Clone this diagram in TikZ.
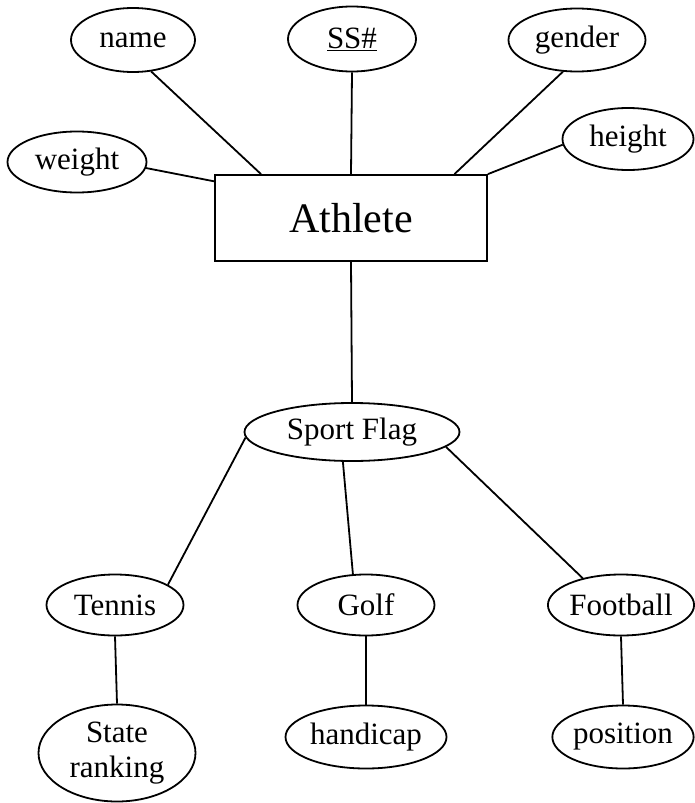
\documentclass[tikz,border=0pt]{standalone}
\usepackage{fontspec}
\setmainfont{Liberation Serif}
\usetikzlibrary{shapes.geometric}

\begin{document}
\begin{tikzpicture}[
    x=1pt, y=-1pt,
    attr/.style={ellipse, draw, line width=1.8pt, inner sep=0pt, font=\fontsize{31}{35}\selectfont},
    entity/.style={rectangle, draw, line width=1.8pt, inner sep=0pt, font=\fontsize{42}{48}\selectfont},
    link/.style={line width=1.8pt}
]
\useasboundingbox (0,0) rectangle (694,803);

% Entity
\node[entity, minimum width=272pt, minimum height=86pt] (athlete) at (351,218) {Athlete};

% Attributes of the entity
\node[attr, minimum width=124pt, minimum height=64pt] (name)   at (133,40)  {name};
\node[attr, minimum width=128pt, minimum height=65pt] (ssn)    at (352,39)  {\underline{SS\#}};
\node[attr, minimum width=137pt, minimum height=63pt] (gender) at (577,40)  {gender};
\node[attr, minimum width=139pt, minimum height=61pt] (weight) at (77,162)  {weight};
\node[attr, minimum width=131pt, minimum height=62pt] (height) at (628,139) {height};

\draw[link] (name.-60)   -- (athlete.154);
\draw[link] (ssn.south)  -- (athlete.north);
\draw[link] (gender.246) -- (athlete.23.5);
\draw[link] (height.185) -- (athlete.north east);
\draw[link] (weight.-5)  -- (athlete.165);

% Flag and the sports below it
\node[attr, minimum width=215pt, minimum height=58pt] (sport) at (352,432) {Sport Flag};
\draw[link] (athlete.south) -- (sport.north);

\node[attr, minimum width=137pt, minimum height=61pt] (tennis)   at (115,605) {Tennis};
\node[attr, minimum width=137pt, minimum height=61pt] (golf)     at (366,605) {Golf};
\node[attr, minimum width=144pt, minimum height=61pt] (football) at (621,605) {Football};

\draw[link] (sport.183) -- (tennis.21);
\draw[link] (sport.253) -- (golf.113);
\draw[link] (sport.-9)  -- (football.145);

% Attributes of each sport
\node[attr, align=center, minimum width=157pt, minimum height=97pt] (ranking)  at (117,753) {State\\ranking};
\node[attr, minimum width=161pt, minimum height=63pt] (handicap) at (366,737) {handicap};
\node[attr, minimum width=133pt, minimum height=63pt] (position) at (623,737) {position};

\draw[link] (tennis.south)   -- (ranking.north);
\draw[link] (golf.south)     -- (handicap.north);
\draw[link] (football.south) -- (position.north);

\end{tikzpicture}
\end{document}
